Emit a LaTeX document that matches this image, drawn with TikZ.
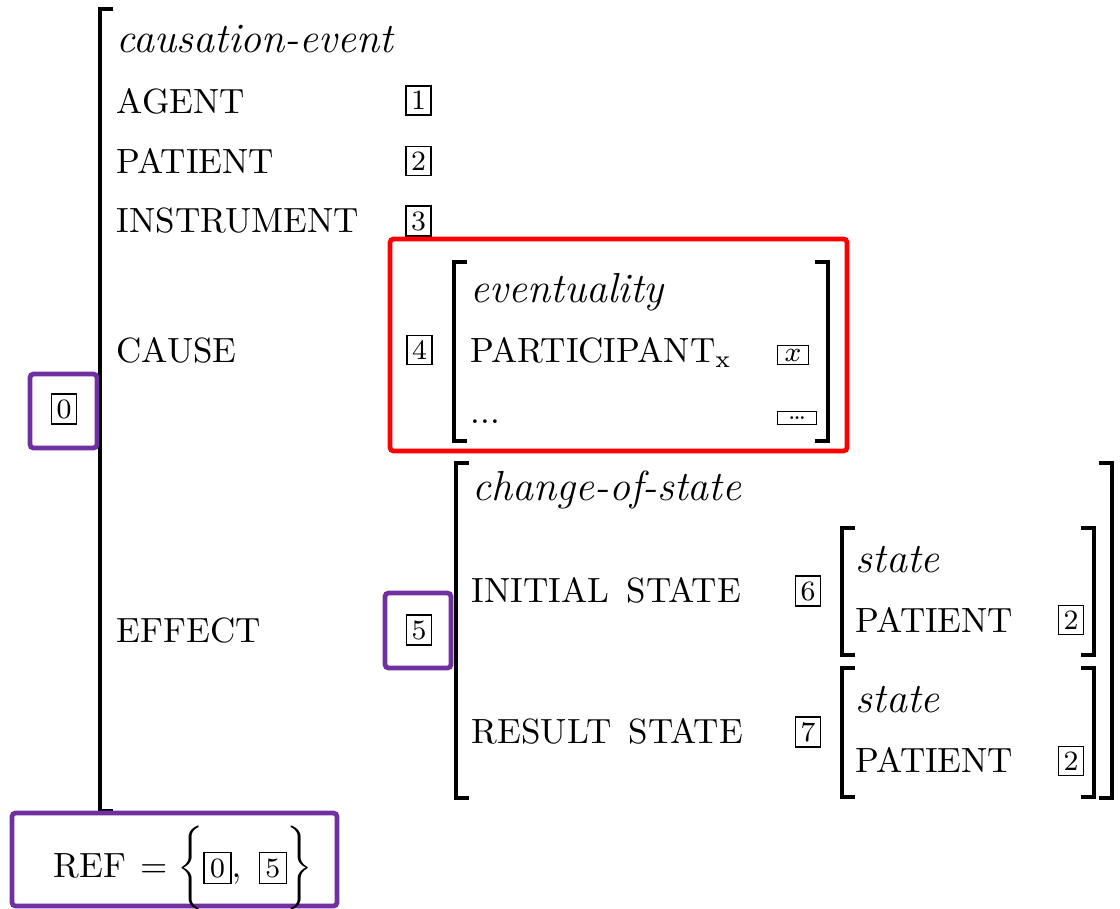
\documentclass[tikz,border=0pt]{standalone}
\usepackage{xcolor}
\usepackage{amsmath}
\usepackage{tikz}
\usetikzlibrary{positioning}

\definecolor{hlpurple}{RGB}{112,48,160}
\newcommand{\tagbox}[1]{{\setlength{\fboxsep}{1.5pt}\fbox{\footnotesize #1}}}

\begin{document}
\begin{tikzpicture}[x=0.2857pt,y=-0.2857pt,
        lbl/.style={anchor=base west,inner sep=0pt},
        typ/.style={anchor=base west,inner sep=0pt,font=\large\itshape},
        tag/.style={draw,line width=0.4pt,inner sep=1.5pt,font=\footnotesize},
        brak/.style={line width=1pt},
        hl/.style={line width=1.35pt,rounded corners=1pt}]
        \useasboundingbox (0,0) rectangle (1120,908);

        % outer matrix
        \draw[brak] (113,9) -- (100,9) -- (100,811) -- (113,811);
        \node[typ] (cev) at (116,53) {causation-event};
        \node[lbl] (agent) at (116,113) {AGENT};
        \node[lbl] (pat) at (116,173) {PATIENT};
        \node[lbl] (instr) at (116,232) {INSTRUMENT};
        \node[lbl] (cause) at (116,362) {CAUSE};
        \node[lbl] (effect) at (116,642) {EFFECT};
        \node[tag] (t0) at (64,409) {0};
        \node[tag] (t1) at (418.5,100.5) {1};
        \node[tag] (t2) at (418.5,161) {2};
        \node[tag] (t3) at (418.5,221) {3};
        \node[tag] (t4) at (419.5,350) {4};
        \node[tag] (t5) at (419,630) {5};

        % eventuality
        \draw[brak] (467,262) -- (454,262) -- (454,441) -- (467,441);
        \draw[brak] (815,262) -- (828,262) -- (828,441) -- (815,441);
        \node[typ] (ev) at (470,302) {eventuality};
        \node[lbl] (part) at (470,362) {PARTICIPANT$_{\mathrm{x}}$};
        \node[lbl] (more) at (470,423) {...};
        \node[tag,inner xsep=2pt,inner ysep=1pt] (tx) at (793,355) {$x$};
        \node[tag,inner sep=0pt,minimum width=11pt,minimum height=3.8pt,
            text height=1pt,text depth=0pt,font=\scriptsize] (tmore) at (797,418) {\ldots};

        % change-of-state
        \draw[brak] (469,463) -- (456,463) -- (456,798) -- (469,798);
        \draw[brak] (1099,463) -- (1112,463) -- (1112,798) -- (1099,798);
        \node[typ] (cos) at (472,500) {change-of-state};
        \node[lbl] (init) at (471,602) {INITIAL\hspace{5pt}STATE};
        \node[lbl] (res) at (471,743) {RESULT\hspace{5pt}STATE};
        \node[tag] (t6) at (808,591) {6};
        \node[tag] (t7) at (808,732) {7};

        % states
        \draw[brak] (855,528) -- (842,528) -- (842,655) -- (855,655);
        \draw[brak] (1081,528) -- (1094,528) -- (1094,655) -- (1081,655);
        \node[typ] (st1) at (855,572) {state};
        \node[lbl] (pat1) at (855,632) {PATIENT};
        \node[tag] (t2a) at (1071,620) {2};
        \draw[brak] (855,668) -- (842,668) -- (842,797) -- (855,797);
        \draw[brak] (1081,668) -- (1094,668) -- (1094,797) -- (1081,797);
        \node[typ] (st2) at (855,712) {state};
        \node[lbl] (pat2) at (855,772) {PATIENT};
        \node[tag] (t2b) at (1071,761) {2};

        % highlights
        \draw[hl,red] (390,239) rectangle (847,451);
        \draw[hl,hlpurple] (30,374) rectangle (97,448);
        \draw[hl,hlpurple] (385,593) rectangle (451,668);
        \draw[hl,hlpurple,fill=white] (12,813) rectangle (337,906);
        \node[lbl] (ref) at (53,877) {REF\hspace{4pt}$=\biggl\{\tagbox{0},\ \tagbox{5}\biggr\}$};
    \end{tikzpicture}
\end{document}
